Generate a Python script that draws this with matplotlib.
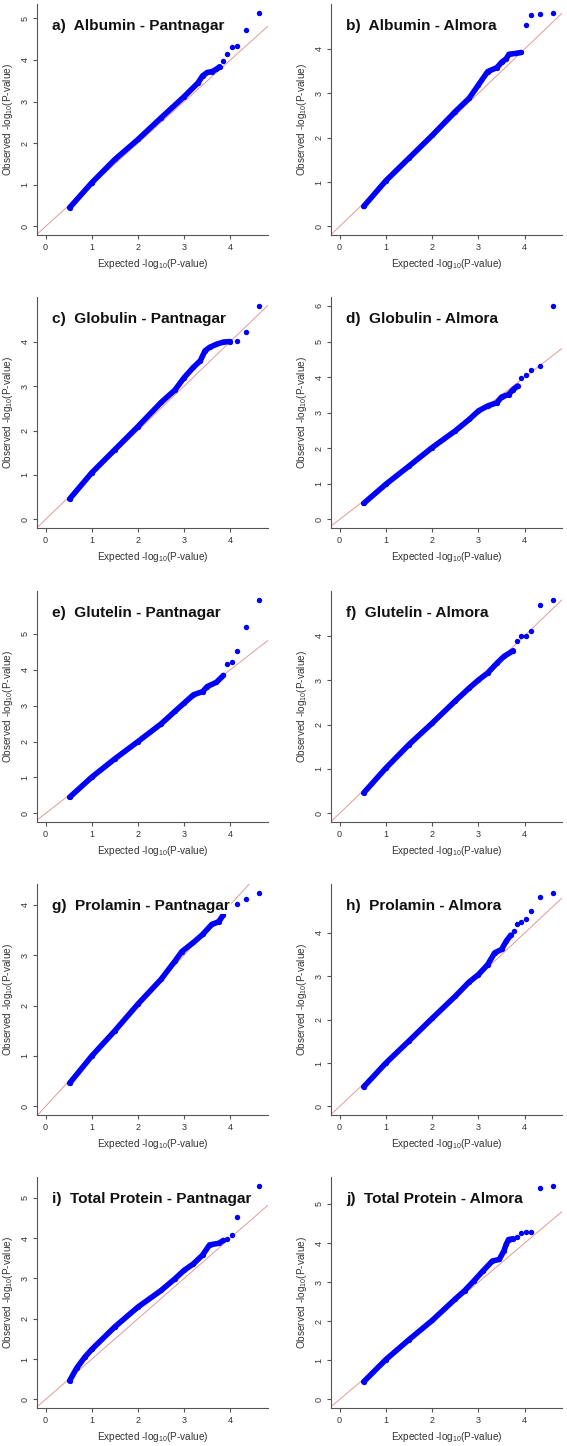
import matplotlib
matplotlib.use("Agg")
import matplotlib.pyplot as plt

plt.rcParams['font.family'] = ['Liberation Sans', 'DejaVu Sans']

titles = ["a)  Albumin - Pantnagar", "b)  Albumin - Almora",
          "c)  Globulin - Pantnagar", "d)  Globulin - Almora",
          "e)  Glutelin - Pantnagar", "f)  Glutelin - Almora",
          "g)  Prolamin - Pantnagar", "h)  Prolamin - Almora",
          "i)  Total Protein - Pantnagar", "j)  Total Protein - Almora"]

# dense part of each QQ curve (expected, observed)
a_exp = [0.52, 1.0, 1.5, 2.0, 2.5, 3.0, 3.3, 3.4, 3.5, 3.6, 3.7, 3.77]
a_obs = [0.45, 1.05, 1.61, 2.09, 2.61, 3.12, 3.45, 3.62, 3.70, 3.72, 3.78, 3.84]
b_exp = [0.52, 1.0, 1.5, 2.0, 2.5, 2.8, 3.0, 3.2, 3.4, 3.5, 3.6, 3.66, 3.81, 3.92]
b_obs = [0.45, 1.03, 1.54, 2.05, 2.59, 2.89, 3.19, 3.49, 3.58, 3.70, 3.78, 3.88, 3.90, 3.92]
c_exp = [0.52, 1.0, 1.5, 2.0, 2.5, 2.8, 3.0, 3.2, 3.35, 3.45, 3.55, 3.7, 3.85, 4.0]
c_obs = [0.46, 1.05, 1.57, 2.09, 2.63, 2.91, 3.19, 3.42, 3.57, 3.79, 3.87, 3.94, 3.99, 4.0]
d_exp = [0.52, 1.0, 1.5, 2.0, 2.5, 2.8, 3.0, 3.2, 3.4, 3.5, 3.65, 3.75, 3.85]
d_obs = [0.45, 0.99, 1.50, 2.02, 2.49, 2.81, 3.05, 3.19, 3.28, 3.44, 3.51, 3.65, 3.75]
e_exp = [0.52, 1.0, 1.5, 2.0, 2.5, 2.8, 3.0, 3.2, 3.4, 3.5, 3.7, 3.85]
e_obs = [0.45, 1.01, 1.52, 2.0, 2.49, 2.84, 3.07, 3.30, 3.39, 3.53, 3.65, 3.84]
f_exp = [0.52, 1.0, 1.5, 2.0, 2.5, 2.8, 3.0, 3.2, 3.4, 3.55, 3.75]
f_obs = [0.46, 1.02, 1.55, 2.03, 2.53, 2.82, 3.0, 3.16, 3.38, 3.53, 3.66]
g_exp = [0.52, 1.0, 1.5, 2.0, 2.5, 2.8, 2.95, 3.2, 3.4, 3.6, 3.75, 3.85]
g_obs = [0.46, 1.0, 1.50, 2.03, 2.52, 2.88, 3.07, 3.25, 3.41, 3.61, 3.66, 3.80]
h_exp = [0.52, 1.0, 1.5, 2.0, 2.5, 2.8, 3.0, 3.2, 3.35, 3.5, 3.6, 3.7]
h_obs = [0.45, 1.0, 1.51, 2.03, 2.54, 2.87, 3.04, 3.27, 3.54, 3.62, 3.81, 3.95]
i_exp = [0.52, 0.67, 0.85, 1.0, 1.5, 2.0, 2.5, 2.8, 3.0, 3.2, 3.4, 3.55, 3.75, 3.85]
i_obs = [0.46, 0.77, 1.05, 1.24, 1.80, 2.29, 2.70, 2.99, 3.20, 3.36, 3.58, 3.83, 3.87, 3.94]
j_exp = [0.52, 1.0, 1.5, 2.0, 2.5, 2.7, 2.9, 3.1, 3.3, 3.45, 3.55, 3.6, 3.65, 3.75]
j_obs = [0.45, 1.02, 1.53, 2.02, 2.57, 2.78, 3.03, 3.29, 3.54, 3.58, 3.80, 3.97, 4.09, 4.11]

# sparse top points
a_top_exp = [3.85, 3.93, 4.03, 4.15, 4.33, 4.63]
a_top_obs = [3.97, 4.15, 4.31, 4.34, 4.71, 5.14]
b_top_exp = [4.02, 4.14, 4.32, 4.62]
b_top_obs = [4.53, 4.76, 4.79, 4.82]
c_top_exp = [4.15, 4.33, 4.63]
c_top_obs = [4.02, 4.22, 4.81]
d_top_exp = [3.92, 4.02, 4.14, 4.32, 4.62]
d_top_obs = [3.98, 4.07, 4.21, 4.32, 6.01]
e_top_exp = [3.93, 4.03, 4.15, 4.33, 4.63]
e_top_obs = [4.16, 4.21, 4.52, 5.19, 5.95]
f_top_exp = [3.84, 3.92, 4.02, 4.14, 4.32, 4.62]
f_top_obs = [3.88, 3.98, 3.99, 4.10, 4.69, 4.81]
g_top_exp = [4.15, 4.33, 4.63]
g_top_obs = [4.02, 4.11, 4.24]
h_top_exp = [3.76, 3.84, 3.92, 4.02, 4.14, 4.32, 4.62]
h_top_obs = [4.04, 4.21, 4.25, 4.32, 4.51, 4.82, 4.93]
i_top_exp = [3.93, 4.03, 4.15, 4.63]
i_top_obs = [3.98, 4.08, 4.53, 5.30]
j_top_exp = [3.84, 3.92, 4.02, 4.14, 4.32, 4.62]
j_top_obs = [4.15, 4.25, 4.29, 4.28, 5.41, 5.47]

panels = [(a_exp, a_obs, a_top_exp, a_top_obs), (b_exp, b_obs, b_top_exp, b_top_obs),
          (c_exp, c_obs, c_top_exp, c_top_obs), (d_exp, d_obs, d_top_exp, d_top_obs),
          (e_exp, e_obs, e_top_exp, e_top_obs), (f_exp, f_obs, f_top_exp, f_top_obs),
          (g_exp, g_obs, g_top_exp, g_top_obs), (h_exp, h_obs, h_top_exp, h_top_obs),
          (i_exp, i_obs, i_top_exp, i_top_obs), (j_exp, j_obs, j_top_exp, j_top_obs)]

W, H = 567, 1446
fig = plt.figure(figsize=(W / 100, H / 100), dpi=100)

col_left = [37, 331]
row_bottom = [235, 528, 822, 1115, 1408]
ax_w, ax_h = 231, 231
axis_col = '#555555'

for k, (ex, ob, tx, to) in enumerate(panels):
    r, c = divmod(k, 2)
    ax = fig.add_axes([col_left[c] / W, 1 - row_bottom[r] / H, ax_w / W, ax_h / H])

    xmax = max(ex + tx)
    ymax = max(ob + to)
    ax.set_xlim(-0.04 * xmax, 1.04 * xmax)
    ax.set_ylim(-0.04 * ymax, 1.04 * ymax)

    ax.axline((0, 0), slope=1, color='#E39A9A', lw=0.7, zorder=1)
    ax.plot(ex, ob, '-o', color='#0000FF', lw=4.0, ms=3.8, mew=0,
            solid_capstyle='round', solid_joinstyle='round', zorder=2)
    ax.plot(tx, to, 'o', color='#0000FF', ms=3.9, mew=0, zorder=2)

    ax.set_xticks(range(0, 5))
    ax.set_yticks(range(0, int(ymax) + 1))
    for s in ['top', 'right']:
        ax.spines[s].set_visible(False)
    for s in ['left', 'bottom']:
        ax.spines[s].set_color(axis_col)
        ax.spines[s].set_linewidth(0.8)
    ax.tick_params(direction='out', length=2.9, width=0.8, color=axis_col,
                   labelsize=6.5, labelcolor='#333333', pad=2.6)
    plt.setp(ax.get_yticklabels(), rotation=90, va='center')

    ax.set_xlabel('Expected -log$_{\\mathregular{10}}$(P-value)', fontsize=7.2,
                  color='#333333', labelpad=4)
    ax.set_ylabel('Observed -log$_{\\mathregular{10}}$(P-value)', fontsize=7.2,
                  color='#333333', labelpad=4)

    ax.text(0.065, 0.905, titles[k], transform=ax.transAxes, fontsize=11.1,
            fontweight='bold', color='#111111', va='center', ha='left', zorder=5,
            bbox=dict(facecolor='white', edgecolor='none', pad=0.5))

fig.savefig('out.png', dpi=100)
